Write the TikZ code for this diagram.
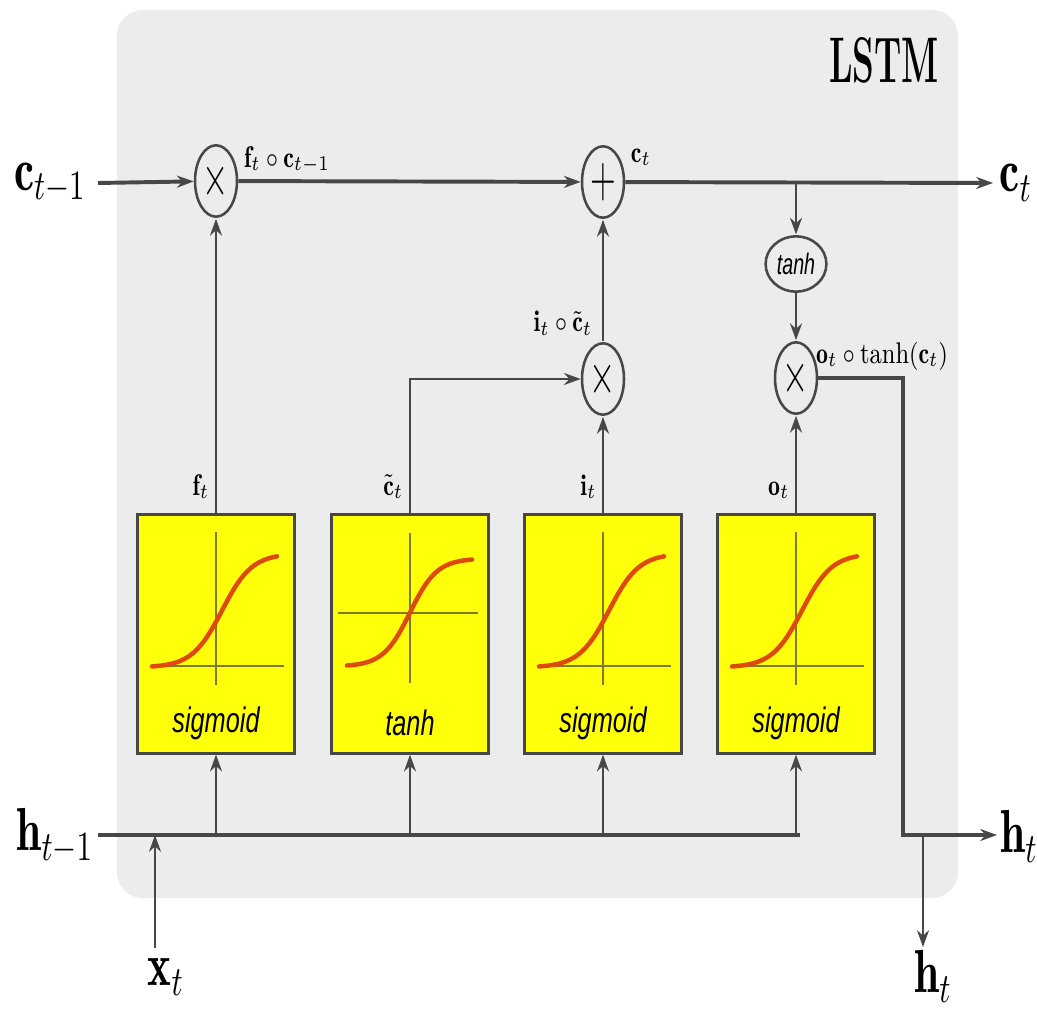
\documentclass[tikz,border=0pt]{standalone}
\usepackage{fontspec}
\usepackage{amsmath}
\newfontfamily\gatefont{Liberation Sans}
\usetikzlibrary{calc, positioning}
\usetikzlibrary{arrows.meta}
\usetikzlibrary{shapes.geometric}

\definecolor{cellgrey}{HTML}{ECECEC}
\definecolor{wiregrey}{HTML}{474747}
\definecolor{gateyellow}{HTML}{FFFF0A}
\definecolor{curvered}{HTML}{DF4A0C}
\definecolor{axisolive}{HTML}{7C7A2C}

\tikzset{
  bus/.style={draw=wiregrey, line width=1.4pt},
  wire/.style={draw=wiregrey, line width=0.8pt},
  arr/.style={-{Stealth[length=2.1mm,width=1.5mm]}},
  opnode/.style={draw=wiregrey, line width=0.9pt, circle, minimum size=5.25mm, inner sep=0pt, yscale=1.7, font=\fontsize{13}{13}\selectfont},
  tanhnode/.style={draw=wiregrey, line width=0.9pt, ellipse, minimum width=7.6mm, minimum height=4.6mm, inner sep=0pt, yscale=1.5, font=\gatefont\itshape\fontsize{7}{7}\selectfont},
  gatebox/.style={draw=wiregrey, line width=1pt, fill=gateyellow, minimum width=19.6mm, minimum height=29.8mm, inner sep=0pt},
  gatetext/.style={font=\gatefont\itshape\fontsize{9}{9}\selectfont, inner sep=0pt, yscale=1.4},
  biglabel/.style={font=\fontsize{16}{16}\selectfont, inner sep=0pt, yscale=1.35},
  smalllabel/.style={font=\fontsize{8.5}{8.5}\selectfont, inner sep=0pt, yscale=1.25},
  axisline/.style={draw=axisolive, line width=0.4pt},
  actcurve/.style={draw=curvered, line width=1.6pt, line cap=round}
}

\begin{document}
\begin{tikzpicture}[x=0.125mm, y=-0.125mm]
\useasboundingbox (0,0) rectangle (1037,1009);
\fill[cellgrey, rounded corners=3.2mm] (117,10) rectangle (958,898);
\node[font=\bfseries\fontsize{12.4}{12.4}\selectfont, inner sep=0pt, yscale=1.85] (title) at (884,60) {LSTM};

% gates
\foreach \name/\xc/\fn in {fgate/216/sigmoid, cgate/410/tanh, igate/603/sigmoid, ogate/796/sigmoid} {
  \node[gatebox] (\name) at (\xc,634) {};
  \node[gatetext] (\name-txt) at (\xc,723) {\fn};
}
\foreach \xc in {216,603,796} {
  \draw[axisline] (\xc,532) -- (\xc,685);
  \draw[axisline] ({\xc-64},666) -- ({\xc+68},666);
  \draw[actcurve] plot[domain=-64:61, samples=60, smooth] ({\xc+\x}, {610.5-57*tanh((\x-6)/30)});
}
\draw[axisline] (410,533) -- (410,683);
\draw[axisline] (338,613) -- (478,613);
\draw[actcurve] plot[domain=-63:62, samples=60, smooth] ({410+\x}, {612.5-54*tanh(\x/27)});

% operations
\node[opnode] (fmul) at (216,181) {$\times$};
\node[opnode] (cadd) at (603,182) {$+$};
\node[opnode] (imul) at (603,379) {$\times$};
\node[opnode] (omul) at (796,378) {$\times$};
\node[tanhnode] (ctanh) at (796,264) {tanh};

\coordinate (cstart) at (98,183);
\coordinate (cend) at (993,183);
\coordinate (ctap) at (796,183);
\coordinate (hstart) at (98,835);
\coordinate (hend) at (800,835);
\coordinate (xstart) at (155,948);
\coordinate (hcorner) at (903,835);
\coordinate (hout) at (997,835);
\coordinate (htap) at (923,835);
\coordinate (hdown) at (923,947);

% cell state
\draw[bus,arr] (cstart) -- (fmul);
\draw[bus,arr] (fmul) -- (cadd);
\draw[bus,arr] (cadd) -- (cend);
\draw[wire,arr] (ctap) -- (ctanh);
\draw[wire,arr] (ctanh) -- (omul);

% gate outputs
\draw[wire,arr] (fgate) -- (fmul);
\draw[wire,arr] (cgate.north) |- (imul);
\draw[wire,arr] (igate) -- (imul);
\draw[wire,arr] (imul) -- (cadd);
\draw[wire,arr] (ogate) -- (omul);
\draw[bus,arr] (omul) -| (hcorner) -- (hout);
\draw[wire,arr] (htap) -- (hdown);

% hidden state and input
\draw[bus] (hstart) -- (hend);
\foreach \g in {fgate,cgate,igate,ogate}
  \draw[wire,arr] (\g.south |- hstart) -- (\g.south);
\draw[wire,arr] (xstart) -- (xstart |- hstart);

% labels
\node[biglabel] (cprev) at (50,183) {$\mathbf{c}_{t-1}$};
\node[biglabel] (cnext) at (1016,183) {$\mathbf{c}_t$};
\node[biglabel] (hprev) at (55,836) {$\mathbf{h}_{t-1}$};
\node[biglabel] (hnext) at (1019,836) {$\mathbf{h}_t$};
\node[biglabel] (xin) at (166,977) {$\mathbf{x}_t$};
\node[biglabel] (hbelow) at (933,976) {$\mathbf{h}_t$};

\node[smalllabel] (fclabel) at (287,160) {$\mathbf{f}_t\circ\mathbf{c}_{t-1}$};
\node[smalllabel] (clabel) at (641,157) {$\mathbf{c}_t$};
\node[smalllabel] (iclabel) at (563,323) {$\mathbf{i}_t\circ\tilde{\mathbf{c}}_t$};
\node[smalllabel] (otlabel) at (882,356) {$\mathbf{o}_t\circ\tanh(\mathbf{c}_t)$};

\node[smalllabel, anchor=south east] (flabel) at ($(fgate.north)+(-6,-14)$) {$\mathbf{f}_t$};
\node[smalllabel, anchor=south east] (ctlabel) at ($(cgate.north)+(-6,-14)$) {$\tilde{\mathbf{c}}_t$};
\node[smalllabel, anchor=south east] (ilabel) at ($(igate.north)+(-6,-14)$) {$\mathbf{i}_t$};
\node[smalllabel, anchor=south east] (olabel) at ($(ogate.north)+(-6,-14)$) {$\mathbf{o}_t$};
\end{tikzpicture}
\end{document}
